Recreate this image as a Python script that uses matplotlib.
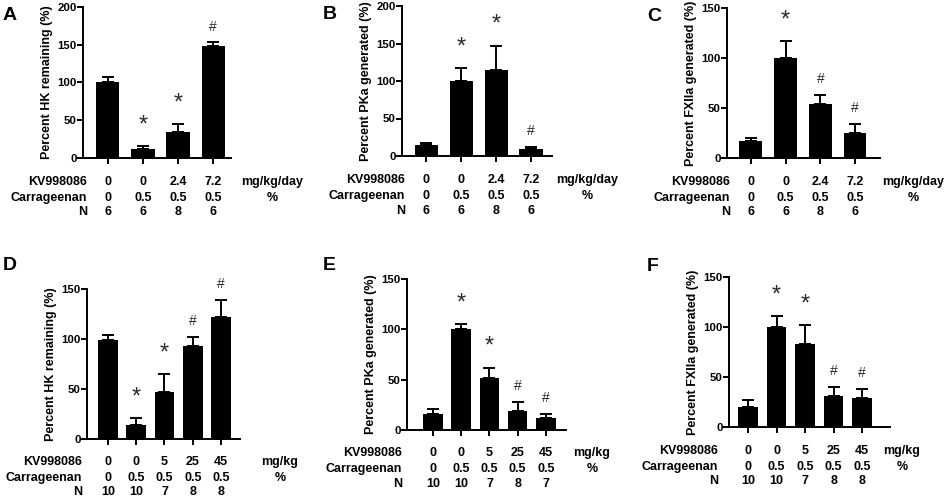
import matplotlib
matplotlib.use("Agg")
import matplotlib.pyplot as plt
from matplotlib.transforms import blended_transform_factory
import numpy as np

plt.rcParams['font.family'] = ['Liberation Sans', 'DejaVu Sans']

# ---------------- data ----------------
# Panel A
a_vals = [100, 12, 34, 149]
a_err = [7, 4, 11, 4]
a_marks = ['', '*', '*', '#']
a_kv = ['0', '0', '2.4', '7.2']
a_car = ['0', '0.5', '0.5', '0.5']
a_n = ['6', '6', '8', '6']
# Panel B
b_vals = [15, 100, 115, 10]
b_err = [3, 17, 32, 2]
b_marks = ['', '*', '*', '#']
b_kv = ['0', '0', '2.4', '7.2']
b_car = ['0', '0.5', '0.5', '0.5']
b_n = ['6', '6', '8', '6']
# Panel C
c_vals = [17, 100, 54, 25]
c_err = [3, 17, 9, 9]
c_marks = ['', '*', '#', '#']
c_kv = ['0', '0', '2.4', '7.2']
c_car = ['0', '0.5', '0.5', '0.5']
c_n = ['6', '6', '8', '6']
# Panel D
d_vals = [99, 14, 47, 93, 122]
d_err = [5, 7, 18, 9, 17]
d_marks = ['', '*', '*', '#', '#']
d_kv = ['0', '0', '5', '25', '45']
d_car = ['0', '0.5', '0.5', '0.5', '0.5']
d_n = ['10', '10', '7', '8', '8']
# Panel E
e_vals = [16, 100, 52, 19, 12]
e_err = [5, 5, 10, 9, 4]
e_marks = ['', '*', '*', '#', '#']
e_kv = ['0', '0', '5', '25', '45']
e_car = ['0', '0.5', '0.5', '0.5', '0.5']
e_n = ['10', '10', '7', '8', '7']
# Panel F
f_vals = [20, 100, 83, 31, 29]
f_err = [7, 11, 19, 9, 9]
f_marks = ['', '*', '*', '#', '#']
f_kv = ['0', '0', '5', '25', '45']
f_car = ['0', '0.5', '0.5', '0.5', '0.5']
f_n = ['10', '10', '7', '8', '8']

ylabels = ['Percent HK remaining (%)', 'Percent PKa generated (%)',
           'Percent FXIIa generated (%)', 'Percent HK remaining (%)',
           'Percent PKa generated (%)', 'Percent FXIIa generated (%)']
letters = ['A', 'B', 'C', 'D', 'E', 'F']
dose_units = ['mg/kg/day'] * 3 + ['mg/kg'] * 3

W, H = 948, 499
fig = plt.figure(figsize=(W / 100, H / 100), dpi=100)

# layout (pixel boxes: left, right, top, bottom)
boxes = [(83, 231, 7, 158), (402, 552, 6, 156), (727, 880, 8, 158),
         (87, 240, 289, 439), (407, 566, 279, 430), (729, 890, 277, 427)]
xlims = [(-0.71, 3.51), (-0.69, 3.6), (-0.69, 3.72),
         (-0.74, 4.67), (-0.92, 4.71), (-0.67, 4.98)]
ylims = [(0, 200), (0, 200), (0, 150), (0, 150), (0, 150), (0, 150)]
yticks = [[0, 50, 100, 150, 200]] * 2 + [[0, 50, 100, 150]] * 4
widths = [0.66, 0.66, 0.66, 0.69, 0.69, 0.69]
row_y = [(182, 198, 212), (180, 196, 211), (182, 198, 212),
         (462, 478, 492), (453, 469, 484), (451, 467, 481)]
label_right = [87, 405, 730, 82, 402, 718]
unit_x = [272, 587, 913, 280, 592, 902]
letter_pos = [(3, 20), (323, 19), (647, 21), (3, 270), (323, 270), (647, 271)]

panels = [
    (a_vals, a_err, a_marks, a_kv, a_car, a_n),
    (b_vals, b_err, b_marks, b_kv, b_car, b_n),
    (c_vals, c_err, c_marks, c_kv, c_car, c_n),
    (d_vals, d_err, d_marks, d_kv, d_car, d_n),
    (e_vals, e_err, e_marks, e_kv, e_car, e_n),
    (f_vals, f_err, f_marks, f_kv, f_car, f_n),
]

fs = 9
for i, (vals, err, marks, kv, car, n) in enumerate(panels):
    l, r, t, b = boxes[i]
    ax = fig.add_axes([l / W, 1 - b / H, (r - l) / W, (b - t) / H])
    x = np.arange(len(vals))
    ax.bar(x, vals, width=widths[i], color='black', zorder=2)
    ax.errorbar(x, vals, yerr=[np.zeros(len(vals)), err], fmt='none',
                ecolor='black', elinewidth=1.4, capsize=4.3, capthick=1.4,
                zorder=1)
    for xi, v, e, m in zip(x, vals, err, marks):
        if m:
            size = 17 if m == '*' else 10
            off = 15 if m == '*' else 11.5
            ax.annotate(m, (xi, v + e), xytext=(0, off),
                        textcoords='offset points', ha='center', va='center',
                        fontsize=size, color='#2a2a2a', annotation_clip=False)
    ax.set_xlim(*xlims[i])
    ax.set_ylim(*ylims[i])
    ax.set_yticks(yticks[i])
    ax.set_xticks(x)
    ax.set_xticklabels([])
    for s in ['top', 'right']:
        ax.spines[s].set_visible(False)
    for s in ['left', 'bottom']:
        ax.spines[s].set_linewidth(1.4)
    ax.tick_params(axis='both', width=1.4, length=4, direction='out')
    ax.tick_params(axis='y', pad=0.6)
    for lab in ax.get_yticklabels():
        lab.set_fontweight('bold')
        lab.set_fontsize(8.2)
    ax.set_ylabel(ylabels[i], fontsize=fs, fontweight='bold', labelpad=3)

    tr = blended_transform_factory(ax.transData, fig.transFigure)
    rows = [kv, car, n]
    names = ['KV998086', 'Carrageenan', 'N']
    units = [dose_units[i], '%', '']
    for rj, (row, name, unit) in enumerate(zip(rows, names, units)):
        yf = 1 - row_y[i][rj] / H
        fig.text(label_right[i] / W, yf, name, ha='right', va='center',
                 fontsize=fs, fontweight='bold')
        for xi, s in zip(x, row):
            ax.text(xi, yf, s, transform=tr, ha='center', va='center',
                    fontsize=fs, fontweight='bold')
        if unit:
            fig.text(unit_x[i] / W, yf, unit, ha='center', va='center',
                     fontsize=fs, fontweight='bold')
    lx, ly = letter_pos[i]
    fig.text(lx / W, 1 - ly / H, letters[i], fontsize=14, fontweight='bold',
             ha='left', va='baseline')

fig.savefig('out.png', dpi=100)
